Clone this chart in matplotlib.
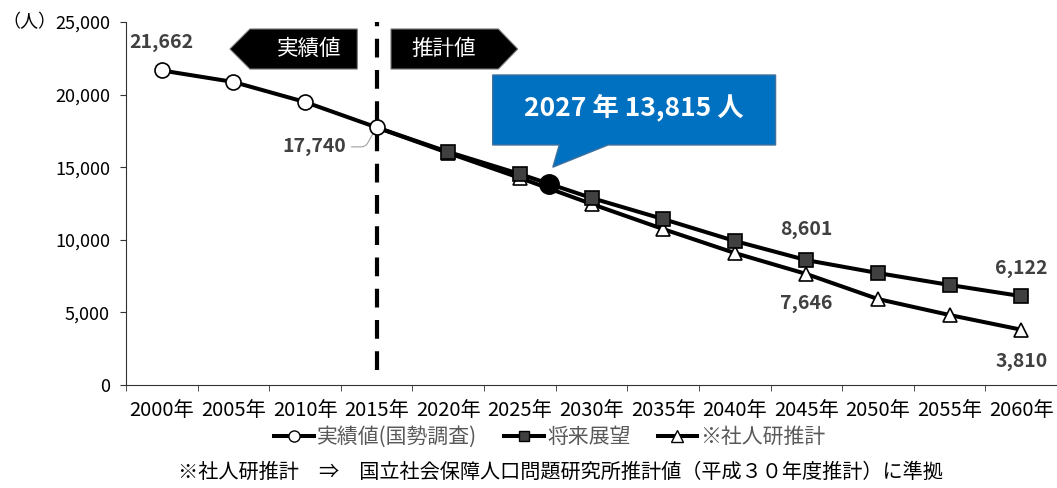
import numpy as np
import matplotlib.pyplot as plt
from matplotlib.patches import Polygon
from matplotlib.lines import Line2D

plt.rcParams['font.family'] = ['Noto Sans CJK JP', 'DejaVu Sans']

# ---- データ ----
years = ['2000年', '2005年', '2010年', '2015年', '2020年', '2025年', '2030年',
         '2035年', '2040年', '2045年', '2050年', '2055年', '2060年']
actual = [21662, 20870, 19490, 17740]                     # 実績値（国勢調査）
outlook = [17740, 16050, 14530, 12880, 11430, 9920, 8601, 7710, 6890, 6122]   # 将来展望
ipss = [17740, 15980, 14260, 12470, 10740, 9090, 7646, 5920, 4820, 3810]      # 社人研推計
highlight_x = 5.4       # 2027年
highlight_val = 13815

x_act = np.arange(len(actual))
x_proj = np.arange(3, 3 + len(outlook))

fig = plt.figure(figsize=(10.57, 4.88), dpi=100)
ax = fig.add_axes([126 / 1057, 1 - 385 / 488, 931 / 1057, 363 / 488])

lw = 2.9
ax.plot(x_proj, ipss, '-', color='black', lw=lw, marker='^', ms=10.5, mfc='white',
        mec='black', mew=1.2, markevery=list(range(1, len(ipss))), zorder=3)
ax.plot(x_proj, outlook, '-', color='black', lw=lw, marker='s', ms=9.5, mfc='#404040',
        mec='black', mew=1.2, markevery=list(range(1, len(outlook))), zorder=3)
ax.plot(x_act, actual, '-', color='black', lw=lw, marker='o', ms=10.8, mfc='white',
        mec='black', mew=1.2, zorder=4)
ax.plot([highlight_x], [highlight_val], 'o', color='black', ms=14, zorder=5)

# 実績値 / 推計値 の境界線
ax.plot([3, 3], [1050, 25000], color='black', lw=3, dashes=(4.5, 3), zorder=2)

ax.set_xlim(-0.5, len(years) - 0.5)
ax.set_ylim(0, 25000)
ax.set_yticks(np.arange(0, 25001, 5000))
ax.set_yticklabels([f'{v:,}' for v in range(0, 25001, 5000)])
ax.set_xticks(np.arange(len(years)))
ax.set_xticklabels(years)
ax.set_xticks(np.arange(-0.5, len(years)), minor=True)
ax.tick_params(axis='x', which='major', length=0, pad=11, labelsize=14.5)
ax.tick_params(axis='x', which='minor', length=4, direction='out', color='#333333')
ax.tick_params(axis='y', length=4.5, pad=7, direction='out', labelsize=13, color='#333333')
for s in ['top', 'right']:
    ax.spines[s].set_visible(False)
for s in ['left', 'bottom']:
    ax.spines[s].set_color('#333333')
fig.text(2 / 1057, 1 - 22 / 488, '（人）', fontsize=13, va='center', ha='left')

# データラベル
lab = dict(fontsize=14, fontweight='bold', color='#404040', ha='center', va='center')
ax.text(0, 23600, f'{actual[0]:,}', **lab)
ax.text(9, 10700, f'{outlook[6]:,}', **lab)
ax.text(9, 5600, f'{ipss[6]:,}', **lab)
ax.text(12, 8000, f'{outlook[-1]:,}', **lab)
ax.text(12, 1600, f'{ipss[-1]:,}', **lab)
ax.annotate(f'{actual[3]:,}', xy=(3, actual[3]), xytext=(2.57, 16400),
            ha='right', va='center', fontsize=14, fontweight='bold', color='#404040',
            arrowprops=dict(arrowstyle='-', color='#a0a0a0', lw=0.8,
                            connectionstyle='angle,angleA=0,angleB=60,rad=4'))

# 矢印ボックス
y0, y1, ym = 21760, 24520, 23140
ax.add_patch(Polygon([[0.95, ym], [1.23, y1], [2.73, y1], [2.73, y0], [1.23, y0]],
                     closed=True, fc='black', ec='#7f7f7f', lw=0.8, zorder=3))
ax.text(2.05, ym, '実績値', color='white', fontsize=15.5, ha='center', va='center')
ax.add_patch(Polygon([[3.2, y1], [4.7, y1], [4.97, ym], [4.7, y0], [3.2, y0]],
                     closed=True, fc='black', ec='#7f7f7f', lw=0.8, zorder=3))
ax.text(3.93, ym, '推計値', color='white', fontsize=15.5, ha='center', va='center')

# 吹き出し
bx0, bx1, by0, by1 = 4.62, 8.57, 16530, 21350
ax.add_patch(Polygon([[bx0, by1], [bx1, by1], [bx1, by0], [6.23, by0], [5.46, 15000],
                      [5.55, by0], [bx0, by0]],
                     closed=True, fc='#0070c0', ec='#41719c', lw=1, zorder=6))
ax.text((bx0 + bx1) / 2, (by0 + by1) / 2 + 150, f'2027 年 {highlight_val:,} 人',
        color='white', fontsize=19, fontweight='bold', ha='center', va='center', zorder=7)

# 凡例
handles = [
    Line2D([], [], color='black', lw=lw, marker='o', ms=8, mfc='white', mec='black'),
    Line2D([], [], color='black', lw=lw, marker='s', ms=7.5, mfc='#404040', mec='black'),
    Line2D([], [], color='black', lw=lw, marker='^', ms=8, mfc='white', mec='black'),
]
leg = fig.legend(handles, ['実績値(国勢調査)', '将来展望', '※社人研推計'],
                 loc='center', bbox_to_anchor=(550 / 1057, 1 - 437 / 488), ncol=3,
                 frameon=False, fontsize=15, handlelength=1.9, handletextpad=0.15,
                 columnspacing=1.3, labelcolor='#595959')

fig.text(560 / 1057, 1 - 472 / 488,
         '※社人研推計　⇒　国立社会保障人口問題研究所推計値（平成３０年度推計）に準拠',
         ha='center', va='center', fontsize=14.5)

fig.savefig('out.png', dpi=100)
